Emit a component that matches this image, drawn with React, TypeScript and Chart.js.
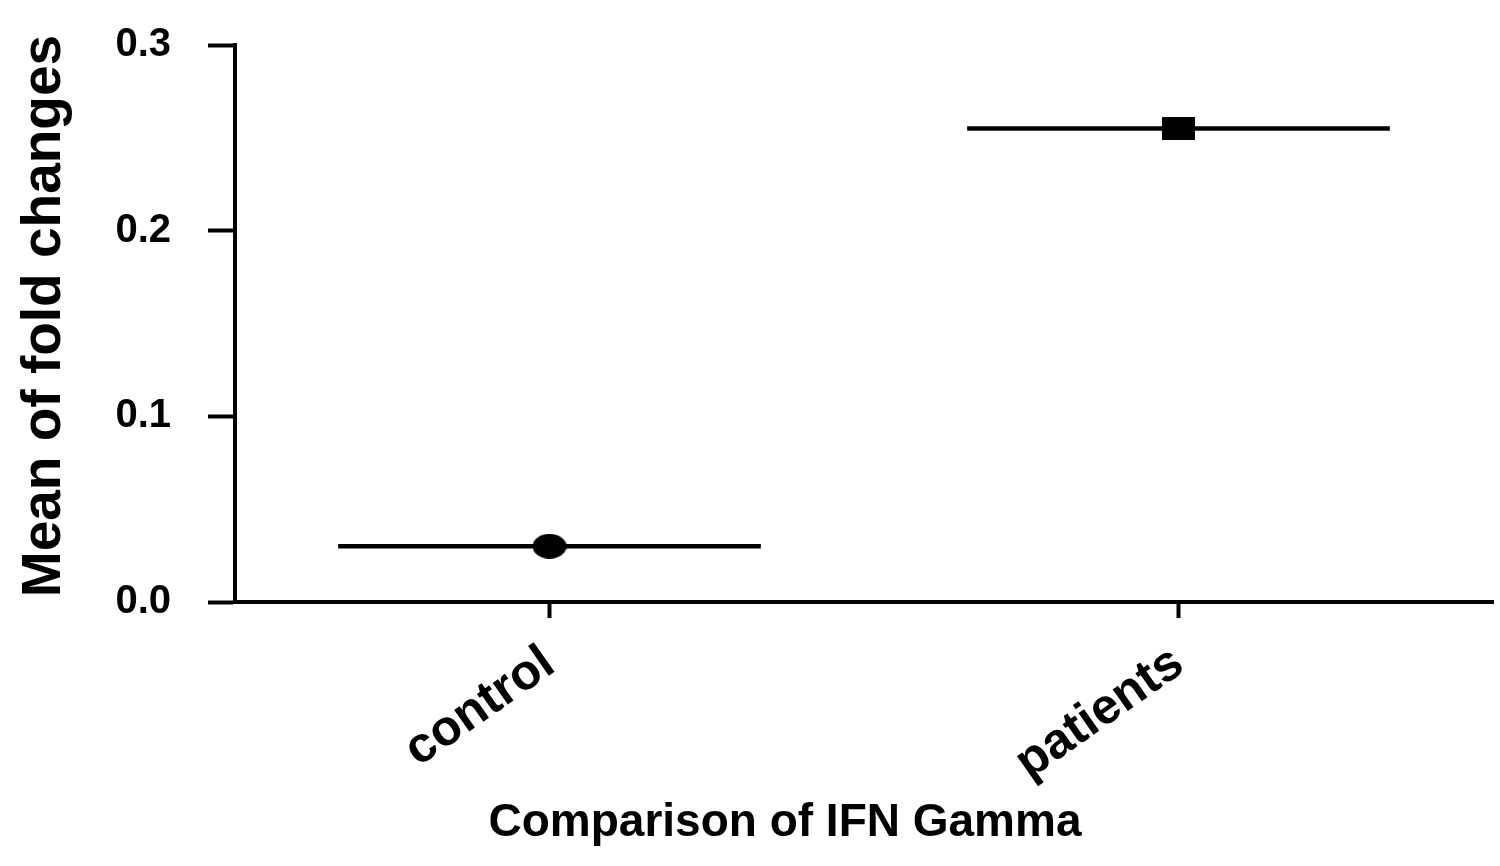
import React, { useEffect, useRef } from "react";
import { Chart, registerables } from "chart.js";

Chart.register(...registerables);

// data
const CATEGORIES = ["control", "patients"];
const MEANS = [0.030, 0.255];
const Y_MIN = 0;
const Y_MAX = 0.3;
const Y_STEP = 0.1;
const X_TITLE = "Comparison of IFN Gamma";
const Y_TITLE = "Mean of fold changes";

const FONT = '"Liberation Sans", Arial, Helvetica, sans-serif';

// small canvases used as point markers (ellipse for control, block for patients)
const makeMarker = (w: number, h: number, shape: "ellipse" | "rect") => {
  const c = document.createElement("canvas");
  c.width = w;
  c.height = h;
  const g = c.getContext("2d")!;
  g.fillStyle = "#000";
  if (shape === "ellipse") {
    g.beginPath();
    g.ellipse(w / 2, h / 2, w / 2, h / 2, 0, 0, Math.PI * 2);
    g.fill();
  } else {
    g.fillRect(0, 0, w, h);
  }
  return c;
};

// horizontal mean line under each marker, 67% of the category width
const meanLines = {
  id: "meanLines",
  beforeDatasetsDraw(chart: any) {
    const { ctx, scales } = chart;
    const xs = scales.x;
    const ys = scales.y;
    const catWidth = (xs.right - xs.left) / CATEGORIES.length;
    ctx.save();
    ctx.strokeStyle = "#000";
    ctx.lineWidth = 4.5;
    MEANS.forEach((m, i) => {
      const cx = xs.getPixelForValue(i);
      const cy = ys.getPixelForValue(m);
      ctx.beginPath();
      ctx.moveTo(cx - catWidth * 0.336, cy);
      ctx.lineTo(cx + catWidth * 0.336, cy);
      ctx.stroke();
    });
    ctx.restore();
  },
};

// axis titles; the x title sits left of the plot centre in the original
const axisTitles = {
  id: "axisTitles",
  afterDraw(chart: any) {
    const ctx = chart.ctx;
    ctx.save();
    ctx.fillStyle = "#000";
    ctx.textAlign = "center";
    ctx.textBaseline = "alphabetic";
    ctx.font = `bold 46px ${FONT}`;
    ctx.fillText(X_TITLE, 785, 836);
    ctx.translate(60, 316);
    ctx.rotate(-Math.PI / 2);
    ctx.font = `bold 55px ${FONT}`;
    ctx.fillText(Y_TITLE, 0, 0);
    ctx.restore();
  },
};

const App = () => {
  const chartRef = useRef<HTMLCanvasElement | null>(null);
  const chartInstanceRef = useRef<Chart | null>(null);

  useEffect(() => {
    document.body.style.margin = "0";
    const ctx = chartRef.current?.getContext("2d");
    if (!ctx) return;
    if (chartInstanceRef.current) {
      chartInstanceRef.current.destroy();
    }

    const markers = [makeMarker(34, 25, "ellipse"), makeMarker(33, 23, "rect")];

    chartInstanceRef.current = new Chart(ctx, {
      type: "line",
      data: {
        labels: CATEGORIES,
        datasets: [
          {
            data: MEANS,
            showLine: false,
            pointStyle: markers as any,
            pointRadius: 17,
            borderColor: "#000",
            backgroundColor: "#000",
          },
        ],
      },
      plugins: [meanLines, axisTitles],
      options: {
        responsive: true,
        maintainAspectRatio: false,
        animation: false,
        layout: { autoPadding: false, padding: { top: 45, right: 7, left: 0, bottom: 0 } },
        plugins: {
          legend: { display: false },
          tooltip: { enabled: false },
        },
        scales: {
          x: {
            type: "category",
            offset: true,
            afterFit: (scale: any) => {
              scale.height = 866 - 602;
              scale.paddingLeft = 0;
              scale.paddingRight = 0;
            },
            grid: {
              drawOnChartArea: false,
              drawTicks: true,
              tickLength: 16,
              tickWidth: 4,
              tickColor: "#000",
              offset: false,
            },
            border: { display: true, color: "#000", width: 4 },
            ticks: {
              color: "#000",
              font: { family: FONT, size: 50, weight: "bold" },
              minRotation: 35,
              maxRotation: 35,
              padding: 16,
            },
          },
          y: {
            min: Y_MIN,
            max: Y_MAX,
            afterFit: (scale: any) => {
              scale.width = 235;
              scale.paddingTop = 0;
              scale.paddingBottom = 0;
            },
            grid: {
              drawOnChartArea: false,
              drawTicks: true,
              tickLength: 27,
              tickWidth: 4,
              tickColor: "#000",
            },
            border: { display: true, color: "#000", width: 4 },
            ticks: {
              stepSize: Y_STEP,
              color: "#000",
              padding: 37,
              font: { family: FONT, size: 40, weight: "bold" },
              callback: (v: any) => Number(v).toFixed(1),
            },
          },
        },
      },
    });

    return () => {
      if (chartInstanceRef.current) {
        chartInstanceRef.current.destroy();
        chartInstanceRef.current = null;
      }
    };
  }, []);

  return (
    <div style={{ width: "1500px", height: "866px", background: "#fff" }}>
      <canvas ref={chartRef} style={{ width: "100%", height: "100%" }}></canvas>
    </div>
  );
};

export default App;
